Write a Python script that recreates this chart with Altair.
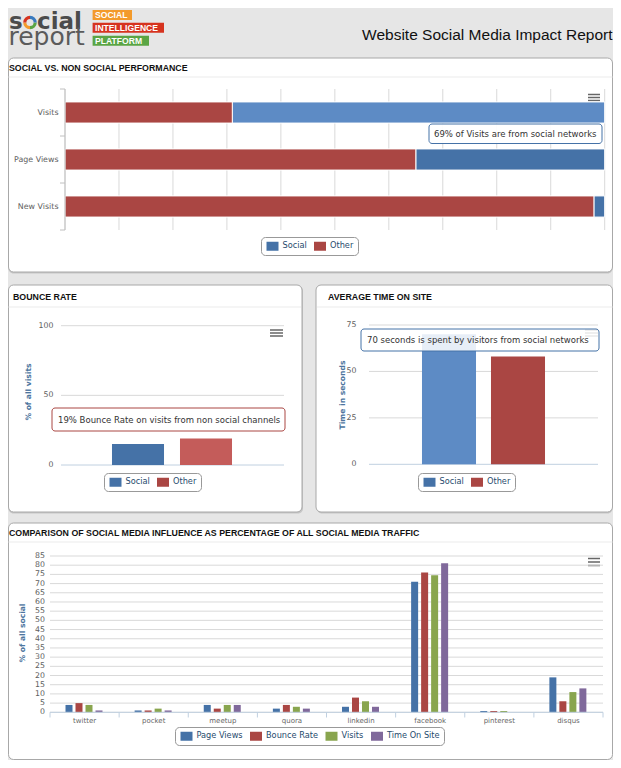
import altair as alt
import pandas as pd

# ---------------- data ----------------
metrics = ["Visits", "Page Views", "New Visits"]
social_share = [69, 35, 2]
other_share = [31, 65, 98]

sources = ["Social", "Other"]
bounce_rate = [15, 19]
time_on_site = [70, 58]

networks = ["twitter", "pocket", "meetup", "quora", "linkedin", "facebook", "pinterest", "disqus"]
series_names = ["Page Views", "Bounce Rate", "Visits", "Time On Site"]
page_views = [4, 1, 4, 2, 3, 71, 0.7, 19]
bounce_rates = [5, 1, 2, 4, 8, 76, 0.7, 6]
visit_shares = [4, 2, 4, 3, 6, 74.5, 0.7, 11]
time_shares = [1, 1, 4, 2, 3, 81, 0, 13]

share_ticks = list(range(0, 101, 10))
bounce_ticks = [0, 50, 100]
time_ticks = [0, 25, 50, 75]
social_ticks = list(range(0, 86, 5))

logo_parts = ["orange", "red", "green", "blue"]
logo_weights = [1, 1, 1, 1]

# ---------------- layout helpers ----------------
W, H = 605, 752


def X(rx):
    return round(min(max(rx - 8, 0.5), W - 0.5), 2)


def Y(ry):
    return round(min(max(ry - 8, 0.5), H - 0.5), 2)


FONT = "DejaVu Sans"
TFONT = "Liberation Sans"
BLUE, RED, GREEN, PURPLE = "#4572A7", "#AA4643", "#89A54E", "#80699B"
BLUE_HI, RED_HI = "#5d8bc5", "#c45c5a"
GRID = "#d9d9d9"
AXIS_LINE = "#c0d0e0"
LABEL = "#606060"
TITLE_BLUE = "#4d759e"
SYM = "M-0.7,-0.9H1.7V0.9H-0.7Z"

one = pd.DataFrame({"k": [0]})


def rect(x1, y1, x2, y2, **kw):
    return alt.Chart(one).mark_rect(**kw).encode(
        x=alt.value(X(x1)), x2=alt.value(X(x2)), y=alt.value(Y(y1)), y2=alt.value(Y(y2))
    )


def text(x, y, s, **kw):
    kw.setdefault("font", FONT)
    kw.setdefault("align", "left")
    kw.setdefault("baseline", "middle")
    return alt.Chart(one).mark_text(text=s, **kw).encode(x=alt.value(X(x)), y=alt.value(Y(y)))


def hrule(x1, x2, y, color, width=1.0):
    return alt.Chart(one).mark_rule(color=color, strokeWidth=width).encode(
        x=alt.value(X(x1)), x2=alt.value(X(x2)), y=alt.value(Y(y))
    )


def vrule(x, y1, y2, color, width=1.0):
    return alt.Chart(one).mark_rule(color=color, strokeWidth=width).encode(
        x=alt.value(X(x)), y=alt.value(Y(y1)), y2=alt.value(Y(y2))
    )


def legend(lx, ly):
    return alt.Legend(
        orient="none", legendX=X(lx), legendY=Y(ly), direction="horizontal", title=None,
        symbolType=SYM, symbolSize=100, symbolStrokeWidth=0, symbolOpacity=1,
        labelFont=FONT, labelFontSize=8.2, labelColor="#274b6d", labelOffset=7.5,
        columnPadding=5.5, padding=4, strokeColor="#999999", cornerRadius=4, fillColor="white",
    )


def value_labels(ticks, scale, lx, size=7.8):
    return alt.Chart(pd.DataFrame({"tick": ticks})).mark_text(
        align="right", baseline="middle", font=FONT, fontSize=size, color=LABEL
    ).encode(y=alt.Y("tick:Q", scale=scale, axis=None), x=alt.value(X(lx)), text="tick:Q")


def axis_title(x, y, s):
    return text(x, y, s, fontSize=7.6, fontWeight="bold", color=TITLE_BLUE, angle=270,
                align="center", baseline="middle")


def hamburger(x1, x2, ys):
    return [hrule(x1, x2, yy, "#666666", 1.5) for yy in ys]


layers = []

# ---------------- header ----------------
layers.append(text(9, 29, "s", fontSize=23, fontWeight="bold", color="#4b4b4b", baseline="alphabetic"))
ring = pd.DataFrame({"part": logo_parts, "w": logo_weights})
layers.append(
    alt.Chart(ring).mark_arc(radius=6.8, radius2=3.6).encode(
        theta=alt.Theta("w:Q", stack=True),
        color=alt.Color("part:N", scale=alt.Scale(domain=logo_parts, range=["#f39a2b", "#d6331f", "#5aa544", "#3a7bbf"]), legend=None),
        x=alt.value(X(30)), y=alt.value(Y(22.5)),
    )
)
layers.append(text(37, 29, "cial", fontSize=23, fontWeight="bold", color="#4b4b4b", baseline="alphabetic"))
layers.append(text(8, 45, "report", fontSize=25, fontWeight="normal", color="#5b5b5b", baseline="alphabetic"))
for (x1, y1, x2, y2, col, word) in [
    (92.6, 10, 132, 20, "#f39a2b", "SOCIAL"),
    (92.6, 22.7, 164, 32.7, "#d6331f", "INTELLIGENCE"),
    (92.6, 35.7, 149, 45.7, "#5aa544", "PLATFORM"),
]:
    layers.append(rect(x1, y1, x2, y2, color=col))
    layers.append(text(95, (y1 + y2) / 2 + 0.3, word, font=TFONT, fontSize=8.6, fontWeight="bold", color="white"))
layers.append(text(614, 39.5, "Website Social Media Impact Report", font=TFONT, fontSize=15.5,
                   color="#111111", align="right", baseline="alphabetic"))

# ---------------- panel frames ----------------
panels = [
    (3, 58, 617, 272, 9, 68, 77, "SOCIAL VS. NON SOCIAL PERFORMANCE"),
    (3, 285, 302, 512, 13, 296.5, 307, "BOUNCE RATE"),
    (316, 285, 617, 512, 328, 296.5, 307, "AVERAGE TIME ON SITE"),
    (3, 523, 617, 761, 9, 533, 542, "COMPARISON OF SOCIAL MEDIA INFLUENCE AS PERCENTAGE OF ALL SOCIAL MEDIA TRAFFIC"),
]
for (x1, y1, x2, y2, tx, ty, dy, title) in panels:
    layers.append(rect(x1 + 1, y1 + 1, x2 + 1, y2 + 1.5, color="#b8b8b8", opacity=0.7, cornerRadius=5))
    layers.append(rect(x1, y1, x2, y2, fill="white", stroke="#a8a8a8", strokeWidth=1, cornerRadius=5))
    layers.append(hrule(x1 + 1, x2 - 1, dy, "#ebebeb"))
    layers.append(text(tx, ty, title, font=TFONT, fontSize=8.8, fontWeight="bold", color="#111111"))

layers += hamburger(588, 600, [94.5, 97.5, 100.5])
layers += hamburger(270, 283, [330, 333, 336])
layers += hamburger(585, 598, [330, 333, 336])
layers += hamburger(588, 600, [558.5, 562, 565.5])

# ---------------- panel 1: social vs non social ----------------
p1 = pd.DataFrame({
    "metric": metrics * 2,
    "source": ["Social"] * len(metrics) + ["Other"] * len(metrics),
    "share": social_share + other_share,
})
y1s = alt.Scale(domain=metrics, range=[Y(89), Y(230)], paddingInner=0, paddingOuter=0)
x1s = alt.Scale(domain=[0, 100], range=[X(65), X(604.7)], nice=False)

grid1 = alt.Chart(pd.DataFrame({"tick": share_ticks})).mark_rule(color=GRID).encode(
    x=alt.X("tick:Q", scale=x1s, axis=None), y=alt.value(Y(89)), y2=alt.value(Y(230))
)
bars1 = alt.Chart(p1).transform_calculate(
    stack_rank="datum.source === 'Other' ? 0 : 1"
).mark_bar(height={"band": 0.45}, stroke="white", strokeWidth=1).encode(
    y=alt.Y("metric:N", scale=y1s, axis=None),
    x=alt.X("share:Q", stack="zero", scale=x1s, axis=None),
    color=alt.condition(
        "datum.metric === 'Visits' && datum.source === 'Social'",
        alt.value(BLUE_HI),
        alt.Color("source:N", scale=alt.Scale(domain=sources, range=[BLUE, RED]), legend=legend(261, 237)),
    ),
    order=alt.Order("stack_rank:Q"),
)
metric_df = pd.DataFrame({"metric": metrics})
labels1 = alt.Chart(metric_df).mark_text(
    align="right", baseline="middle", font=FONT, fontSize=7.9, color=LABEL
).encode(y=alt.Y("metric:N", scale=y1s, axis=None), x=alt.value(X(58.5)), text="metric:N")
ticks1 = alt.Chart(metric_df).mark_rule(color="#c0c0c0").encode(
    y=alt.Y("metric:N", scale=y1s, bandPosition=0, axis=None), x=alt.value(X(60)), x2=alt.value(X(65))
)
ticks1_end = alt.Chart(pd.DataFrame({"metric": metrics[-1:]})).mark_rule(color="#c0c0c0").encode(
    y=alt.Y("metric:N", scale=y1s, bandPosition=1, axis=None), x=alt.value(X(60)), x2=alt.value(X(65))
)
layers.append(alt.layer(grid1, bars1, labels1, ticks1, ticks1_end))
layers.append(vrule(65, 89, 230, "#c0c0c0"))

# ---------------- panel 2: bounce rate ----------------
p2 = pd.DataFrame({"source": sources, "rate": bounce_rate})
y2s = alt.Scale(domain=[0, 100], range=[Y(465), Y(325.7)], nice=False)
x2s = alt.Scale(domain=sources, range=[X(104), X(240)], paddingInner=0.235, paddingOuter=0.1175)
grid2 = alt.Chart(pd.DataFrame({"tick": bounce_ticks})).mark_rule().encode(
    y=alt.Y("tick:Q", scale=y2s, axis=None), x=alt.value(X(61)), x2=alt.value(X(284)),
    color=alt.condition("datum.tick === 0", alt.value(AXIS_LINE), alt.value(GRID)),
)
bars2 = alt.Chart(p2).mark_bar().encode(
    x=alt.X("source:N", scale=x2s, axis=None),
    y=alt.Y("rate:Q", scale=y2s, axis=None),
    color=alt.condition(
        "datum.source === 'Other'",
        alt.value(RED_HI),
        alt.Color("source:N", scale=alt.Scale(domain=sources, range=[BLUE, RED]), legend=legend(104, 473)),
    ),
)
layers.append(alt.layer(grid2, bars2, value_labels(bounce_ticks, y2s, 53.5)))
layers.append(axis_title(29, 392, "% of all visits"))

# ---------------- panel 3: average time on site ----------------
p3 = pd.DataFrame({"source": sources, "seconds": time_on_site})
y3s = alt.Scale(domain=[0, 75], range=[Y(464.3), Y(325)], nice=False)
x3s = alt.Scale(domain=sources, range=[X(414.5), X(552.5)], paddingInner=0.217, paddingOuter=0.1085)
grid3 = alt.Chart(pd.DataFrame({"tick": time_ticks})).mark_rule().encode(
    y=alt.Y("tick:Q", scale=y3s, axis=None), x=alt.value(X(369)), x2=alt.value(X(598)),
    color=alt.condition("datum.tick === 0", alt.value(AXIS_LINE), alt.value(GRID)),
)
bars3 = alt.Chart(p3).mark_bar().encode(
    x=alt.X("source:N", scale=x3s, axis=None),
    y=alt.Y("seconds:Q", scale=y3s, axis=None),
    color=alt.condition(
        "datum.source === 'Social'",
        alt.value(BLUE_HI),
        alt.Color("source:N", scale=alt.Scale(domain=sources, range=[BLUE, RED]), legend=legend(418, 473)),
    ),
)
layers.append(alt.layer(grid3, bars3, value_labels(time_ticks, y3s, 356.5)))
layers.append(axis_title(343, 395, "Time in seconds"))

# ---------------- panel 4: comparison ----------------
p4 = pd.DataFrame({
    "network": networks * len(series_names),
    "series": [s for s in series_names for _ in networks],
    "pct": page_views + bounce_rates + visit_shares + time_shares,
})
x4s = alt.Scale(domain=networks, range=[X(50), X(603)], paddingInner=0, paddingOuter=0)
y4s = alt.Scale(domain=[0, 85], range=[Y(712.3), Y(556)], nice=False)
grid4 = alt.Chart(pd.DataFrame({"tick": social_ticks})).mark_rule(color=GRID).encode(
    y=alt.Y("tick:Q", scale=y4s, axis=None), x=alt.value(X(50)), x2=alt.value(X(603))
)
bars4 = alt.Chart(p4).mark_bar().encode(
    x=alt.X("network:N", scale=x4s, axis=None),
    xOffset=alt.XOffset("series:N", scale=alt.Scale(domain=series_names, range=[14, 54],
                                                      paddingInner=0.3, paddingOuter=0.15)),
    y=alt.Y("pct:Q", scale=y4s, axis=None),
    color=alt.Color("series:N", scale=alt.Scale(domain=series_names, range=[BLUE, RED, GREEN, PURPLE]),
                    legend=legend(175, 727)),
)
net_df = pd.DataFrame({"network": networks})
xlabels4 = alt.Chart(net_df).mark_text(
    align="center", baseline="middle", font=FONT, fontSize=7, color="#666666"
).encode(x=alt.X("network:N", scale=x4s, axis=None), y=alt.value(Y(720.5)), text="network:N")
ticks4 = alt.Chart(net_df).mark_rule(color=AXIS_LINE).encode(
    x=alt.X("network:N", scale=x4s, bandPosition=0, axis=None), y=alt.value(Y(712.3)), y2=alt.value(Y(717.5))
)
ticks4_end = alt.Chart(pd.DataFrame({"network": networks[-1:]})).mark_rule(color=AXIS_LINE).encode(
    x=alt.X("network:N", scale=x4s, bandPosition=1, axis=None), y=alt.value(Y(712.3)), y2=alt.value(Y(717.5))
)
layers.append(alt.layer(grid4, bars4, xlabels4, ticks4, ticks4_end, value_labels(social_ticks, y4s, 45, 7.8)))
layers.append(hrule(50, 603, 712.3, AXIS_LINE))
layers.append(axis_title(22.6, 633, "% of all social"))

# ---------------- tooltips ----------------
layers.append(rect(429, 124, 602, 143.5, fill="white", fillOpacity=0.92, stroke=BLUE, strokeWidth=1, cornerRadius=3))
layers.append(text(434, 134, "69% of Visits are from social networks", fontSize=8.5, color="#333333"))
layers.append(rect(52, 408, 285, 431, fill="white", fillOpacity=0.92, stroke=RED, strokeWidth=1, cornerRadius=3))
layers.append(text(58, 419.7, "19% Bounce Rate on visits from non social channels", fontSize=8.5, color="#333333"))
layers.append(rect(361, 329, 599, 351, fill="white", fillOpacity=0.85, stroke=BLUE, strokeWidth=1, cornerRadius=3))
layers.append(text(367, 340.2, "70 seconds is spent by visitors from social networks", fontSize=8.5, color="#333333"))

chart = alt.layer(*layers).resolve_scale(
    x="independent", y="independent", color="independent", xOffset="independent", theta="independent"
).properties(
    width=W, height=H, background="#e6e6e6", padding=0, autosize=alt.AutoSizeParams(type="none")
).configure_view(strokeWidth=0)

chart.save("out.html", embed_options={"renderer": "svg", "actions": False})
